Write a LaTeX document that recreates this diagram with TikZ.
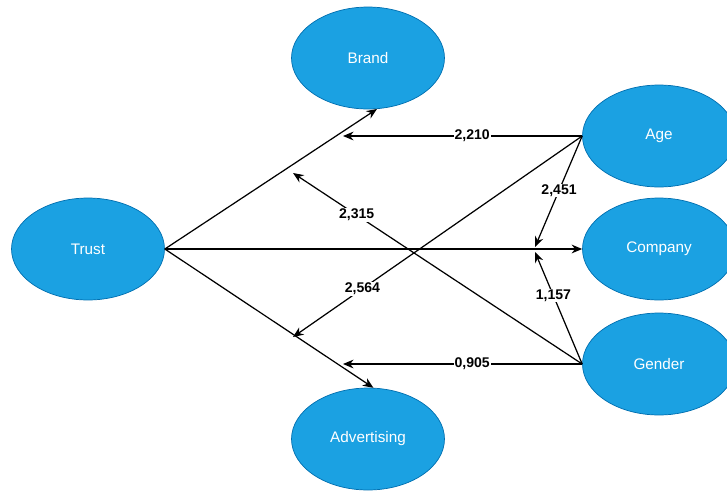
\documentclass[tikz,border=0pt]{standalone}
\usepackage{fontspec}
\setmainfont{Liberation Sans}
\usepackage{tikz}
\usetikzlibrary{arrows.meta}
\usetikzlibrary{shapes.geometric}
\usetikzlibrary{positioning}

\definecolor{varfill}{HTML}{1BA1E2}
\definecolor{varline}{HTML}{006EAF}

\begin{document}
\begin{tikzpicture}
	[
	x=0.02cm, y=-0.02cm,
	> = {Stealth[length=6pt,width=5pt]},
	var/.style = {draw=varline, fill=varfill, ellipse, minimum width=3.06cm, minimum height=2.04cm, inner sep=0pt, text=white, font=\fontsize{8.7pt}{10pt}\selectfont},
	coef/.style = {fill=white, inner sep=0.5pt, font=\fontsize{8pt}{9pt}\selectfont\bfseries},
	path/.style = {->, line width=0.7pt}
	]
	\useasboundingbox (0,0) rectangle (727,491);
	\clip (0,0) rectangle (727,491);

	\node[var] (trust) at (88,249) {Trust};
	\node[var] (brand) at (368,58) {Brand};
	\node[var] (advertising) at (368,439) {Advertising};
	\node[var] (age) at (659,136) {Age};
	\node[var] (company) at (659,249) {Company};
	\node[var] (gender) at (659,364) {Gender};

	% end points of the moderating paths
	\coordinate (brandend) at (343,136);
	\coordinate (advend) at (343,364);
	\coordinate (brandmid) at (293,173);
	\coordinate (advmid) at (293,337);
	\coordinate (compmidA) at (535,247);
	\coordinate (compmidG) at (535,252);

	\draw[path] (trust.east) -- (brand.-80);
	\draw[path] (trust.east) -- (company.west);
	\draw[path] (trust.east) -- (advertising.84);

	\draw[path] (age.west) -- node[coef, pos=0.46] {2,210} (brandend);
	\draw[path] (age.west) -- node[coef, pos=0.49] {2,451} (compmidA);
	\draw[path] (age.west) -- node[coef, pos=0.76] {2,564} (advmid);
	\draw[path] (gender.west) -- node[coef, pos=0.78] {2,315} (brandmid);
	\draw[path] (gender.west) -- node[coef, pos=0.61] {1,157} (compmidG);
	\draw[path] (gender.west) -- node[coef, pos=0.46] {0,905} (advend);
\end{tikzpicture}
\end{document}
